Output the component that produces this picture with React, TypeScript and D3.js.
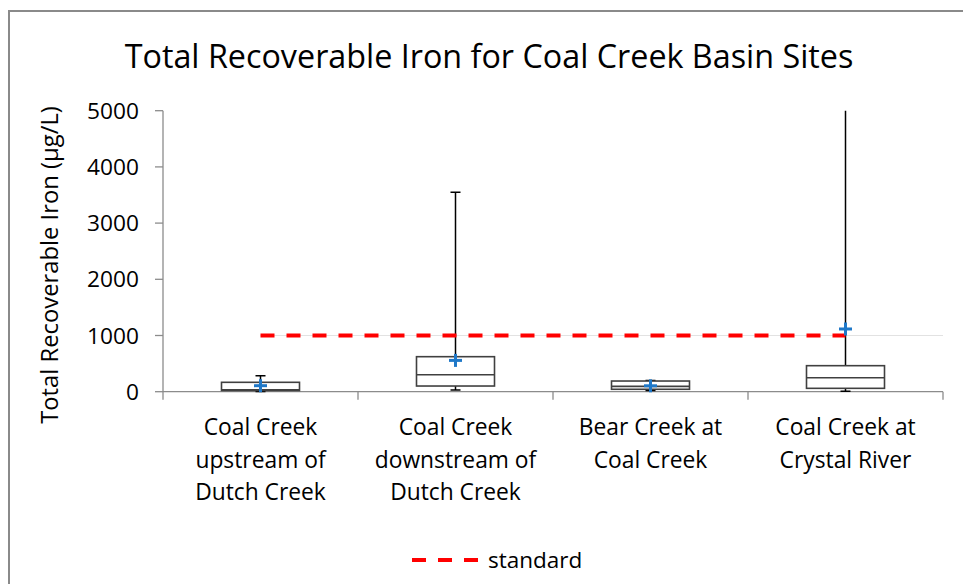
import React from "react";
import * as d3 from "d3";

const categories: string[][] = [
  ["Coal Creek", "upstream of", "Dutch Creek"],
  ["Coal Creek", "downstream of", "Dutch Creek"],
  ["Bear Creek at", "Coal Creek"],
  ["Coal Creek at", "Crystal River"],
];
const mins = [5, 30, 20, 10];
const q1s = [21, 101, 43, 60];
const medians = [35, 302, 95, 249];
const q3s = [167, 623, 190, 463];
const maxs = [285, 3550, 200, 6000];
const means = [107, 557, 105, 1116];
const standardValue = 1000;
const yTicks = [0, 1000, 2000, 3000, 4000, 5000];

const W = 963;
const H = 584;
const FONT = "'Open Sans', 'Noto Sans', sans-serif";

export default function App() {
  const x = d3
    .scaleBand<number>()
    .domain(categories.map((_, i) => i))
    .range([163, 943])
    .padding(0);
  const y = d3.scaleLinear().domain([0, 5000]).range([391.7, 110.7]);
  const bw = x.bandwidth();
  const boxW = bw * 0.4;
  const capW = 10;
  const axisColor = "#8c8c8c";
  const cx = (i: number) => (x(i) as number) + bw / 2;

  return (
    <svg
      width={W}
      height={H}
      style={{ position: "absolute", left: 0, top: 0, background: "#fff" }}
      fontFamily={FONT}
    >
      <defs>
        <clipPath id="plotClip">
          <rect x={163} y={y(5000)} width={780} height={y(0) - y(5000) + 10} />
        </clipPath>
      </defs>
      {/* outer chart border */}
      <rect x={9} y={11} width={W + 20} height={H + 20} fill="none" stroke="#8a8a8a" strokeWidth={2} />

      {/* title */}
      <text x={489} y={68} textAnchor="middle" fontSize={32.3} fill="#000">
        Total Recoverable Iron for Coal Creek Basin Sites
      </text>

      {/* y axis title */}
      <text
        transform={`translate(52, 265) rotate(-90)`}
        textAnchor="middle"
        dominantBaseline="middle"
        fontSize={23.8}
        fill="#000"
      >
        Total Recoverable Iron (µg/L)
      </text>

      {/* y axis */}
      <line x1={163} x2={163} y1={y(5000)} y2={y(0)} stroke={axisColor} strokeWidth={1.3} />
      {yTicks.map((t) => (
        <g key={t}>
          <line x1={155} x2={163} y1={y(t)} y2={y(t)} stroke={axisColor} strokeWidth={1.3} />
          <text x={139} y={y(t)} dy="0.36em" textAnchor="end" fontSize={22.7} fill="#000">
            {t}
          </text>
        </g>
      ))}

      {/* x axis */}
      <line x1={163} x2={943} y1={y(0)} y2={y(0)} stroke={axisColor} strokeWidth={1.3} />
      {[...categories.map((_, i) => x(i) as number), 943].map((px, i) => (
        <line key={i} x1={px} x2={px} y1={y(0)} y2={y(0) + 8} stroke={axisColor} strokeWidth={1.3} />
      ))}
      {categories.map((lines, i) => (
        <text key={i} textAnchor="middle" fontSize={22.8} fill="#000">
          {lines.map((l, j) => (
            <tspan key={j} x={cx(i)} y={435 + j * 32.5}>
              {l}
            </tspan>
          ))}
        </text>
      ))}

      {/* faint standard base line */}
      <line
        x1={cx(0)}
        x2={943}
        y1={y(standardValue)}
        y2={y(standardValue)}
        stroke="#e2e2e2"
        strokeWidth={1}
      />

      {/* boxes */}
      <g clipPath="url(#plotClip)">
        {categories.map((_, i) => {
          const c = cx(i);
          return (
            <g key={i}>
              <line x1={c} x2={c} y1={y(q3s[i])} y2={y(maxs[i])} stroke="#000" strokeWidth={1.5} />
              <line x1={c} x2={c} y1={y(q1s[i])} y2={y(mins[i])} stroke="#000" strokeWidth={1.5} />
              <line x1={c - capW / 2} x2={c + capW / 2} y1={y(maxs[i])} y2={y(maxs[i])} stroke="#000" strokeWidth={1.5} />
              <line x1={c - capW / 2} x2={c + capW / 2} y1={y(mins[i])} y2={y(mins[i])} stroke="#000" strokeWidth={1.5} />
              <rect
                x={c - boxW / 2}
                y={y(q3s[i])}
                width={boxW}
                height={y(q1s[i]) - y(q3s[i])}
                fill="#fff"
                stroke="#404040"
                strokeWidth={1.6}
              />
              <line
                x1={c - boxW / 2}
                x2={c + boxW / 2}
                y1={y(medians[i])}
                y2={y(medians[i])}
                stroke="#404040"
                strokeWidth={1.6}
              />
            </g>
          );
        })}
      </g>

      {/* standard line */}
      <line
        x1={cx(0)}
        x2={cx(3)}
        y1={y(standardValue)}
        y2={y(standardValue)}
        stroke="#ff0000"
        strokeWidth={4}
        strokeDasharray="14 12"
      />

      {/* means */}
      {categories.map((_, i) => {
        const c = cx(i);
        const m = y(means[i]);
        return (
          <g key={i} stroke="#1f78c8" strokeWidth={3}>
            <line x1={c - 6.5} x2={c + 6.5} y1={m} y2={m} />
            <line x1={c} x2={c} y1={m - 6.5} y2={m + 6.5} />
          </g>
        );
      })}

      {/* legend */}
      <line x1={412} x2={480} y1={560} y2={560} stroke="#ff0000" strokeWidth={4} strokeDasharray="14 12" />
      <text x={488} y={560} dy="0.36em" fontSize={22.5} fill="#000">
        standard
      </text>
    </svg>
  );
}
